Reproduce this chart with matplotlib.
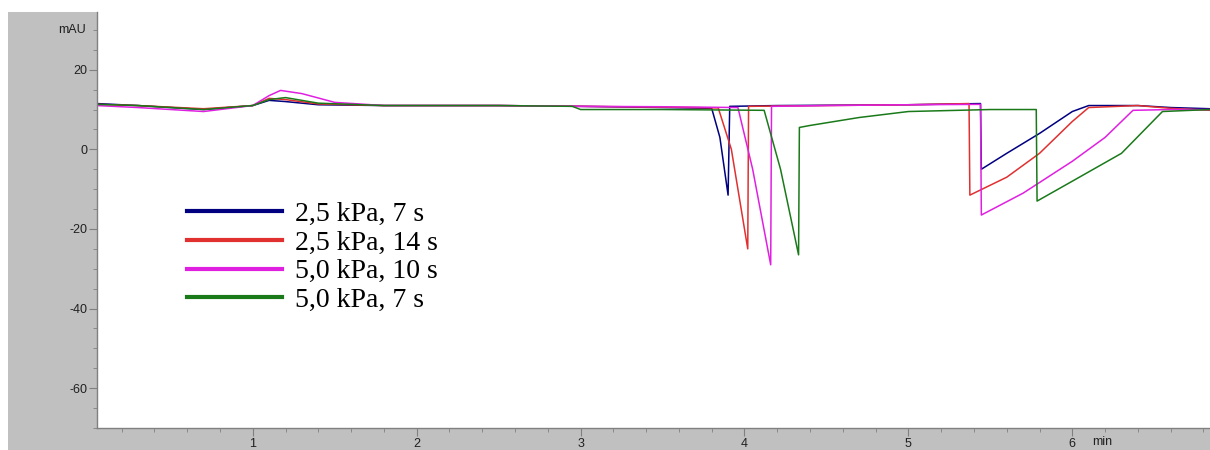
import matplotlib.pyplot as plt
from matplotlib.patches import Rectangle

plt.rcParams["axes.unicode_minus"] = False
plt.rcParams["font.family"] = ["Liberation Sans", "DejaVu Sans"]

# series (time in min, signal in mAU)
t_blue = [0.05, 0.3, 0.7, 1.0, 1.1, 1.2, 1.4, 1.8, 2.5, 3.0, 3.5, 3.80, 3.85, 3.90, 3.91, 4.2, 5.0,
          5.44, 5.445, 5.6, 5.8, 6.0, 6.1, 6.4, 6.6, 6.84]
v_blue = [11.5, 11, 10, 11, 12.3, 12, 11.2, 11, 11, 10.8, 10.5, 10.3, 3, -11.5, 10.8, 11, 11.2,
          11.5, -5, -1, 4, 9.5, 11, 11, 10.5, 10.2]

t_red = [0.05, 0.3, 0.7, 1.0, 1.1, 1.2, 1.4, 1.8, 2.5, 3.0, 3.5, 3.84, 3.92, 4.02, 4.025, 4.5, 5.0,
         5.37, 5.375, 5.6, 5.8, 6.0, 6.1, 6.4, 6.6, 6.84]
v_red = [11.3, 11, 10.2, 11, 12.8, 12.5, 11.4, 11, 11, 10.8, 10.6, 10.4, 0, -25, 10.8, 11, 11.2,
         11.5, -11.5, -7, -1, 7, 10.5, 11, 10.3, 9.8]

t_mag = [0.05, 0.3, 0.7, 1.0, 1.1, 1.17, 1.3, 1.5, 1.8, 2.5, 3.0, 3.5, 3.96, 4.05, 4.16, 4.165, 4.5,
         5.0, 5.44, 5.445, 5.7, 6.0, 6.2, 6.37, 6.6, 6.84]
v_mag = [11, 10.5, 9.5, 11, 13.5, 14.8, 14, 11.8, 11, 11, 10.8, 10.7, 10.5, -5, -29, 10.8, 11, 11.2,
         11.3, -16.5, -11, -3, 3, 9.8, 10, 10]

t_green = [0.05, 0.3, 0.7, 1.0, 1.1, 1.2, 1.4, 1.8, 2.5, 2.95, 3.0, 3.5, 4.12, 4.22, 4.33, 4.335,
           4.4, 4.7, 5.0, 5.5, 5.78, 5.785, 6.0, 6.3, 6.55, 6.84]
v_green = [11.3, 11, 10, 11, 12.5, 13, 11.6, 11, 11, 10.8, 10, 10, 9.8, -5, -26.5, 5.5, 6, 8, 9.5,
           10, 10, -13, -8, -1, 9.5, 10]

labels = ["2,5 kPa, 7 s", "2,5 kPa, 14 s", "5,0 kPa, 10 s", "5,0 kPa, 7 s"]
colors = ["#000080", "#e03030", "#e020e0", "#1a7a1a"]

x_major = [1, 2, 3, 4, 5, 6]
y_major = [-60, -40, -20, 0, 20]

fig = plt.figure(figsize=(12.1, 4.5), dpi=100)
fig.patch.set_facecolor("white")
# grey panel behind the trace window
fig.patches.append(Rectangle((8 / 1210, 0), 1 - 8 / 1210, 1 - 12 / 450,
                             transform=fig.transFigure, facecolor="#c0c0c0",
                             edgecolor="none", zorder=-10))

ax = fig.add_axes([97 / 1210, 22 / 450, 1 - 97 / 1210, 416 / 450])
ax.set_facecolor("white")

series = [(t_blue, v_blue), (t_red, v_red), (t_mag, v_mag), (t_green, v_green)]
handles = []
for (t, v), c, lab in zip(series, colors, labels):
    ax.plot(t, v, color=c, lw=1.1)
    h, = ax.plot([], [], color=c, lw=3, label=lab)
    handles.append(h)

ax.set_xlim(0.05, 6.84)
ax.set_ylim(-70, 34.5)

ax.set_xticks(x_major)
ax.set_xticks([i * 0.2 for i in range(1, 35)], minor=True)
ax.set_yticks(y_major)
ax.set_yticks([-70 + 5 * i for i in range(21)], minor=True)
ax.tick_params(axis="both", which="major", length=6, color="#808080",
               labelsize=9, labelcolor="#202020", pad=1)
ax.tick_params(axis="both", which="minor", length=3, color="#808080")

for side in ["top", "right"]:
    ax.spines[side].set_visible(False)
for side in ["left", "bottom"]:
    ax.spines[side].set_color("#808080")
    ax.spines[side].set_linewidth(1.0)

ax.text(-0.01, 30, "mAU", transform=ax.get_yaxis_transform(), ha="right", va="center",
        fontsize=9, color="#202020")
ax.text(6.12, -72.0, "min", ha="left", va="top", fontsize=9, color="#202020", clip_on=False)

ax.legend(handles=handles, loc="upper left", bbox_to_anchor=(0.081, 0.545), frameon=False,
          prop={"family": "Liberation Serif", "size": 20}, handlelength=3.4,
          handletextpad=0.5, labelspacing=0.12, borderaxespad=0, borderpad=0)

fig.savefig("out.png", dpi=100)
